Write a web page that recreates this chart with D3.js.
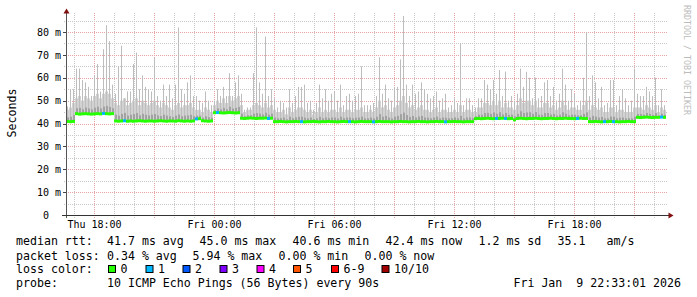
<!DOCTYPE html>
<html>
<head>
<meta charset="utf-8">
<script src="https://cdn.jsdelivr.net/npm/d3@7"></script>
<style>
body { margin: 0; background: #fff; }
text { font-family: "DejaVu Sans Mono", monospace; white-space: pre; }
</style>
</head>
<body>
<svg id="chart" width="697" height="297"></svg>
<script>
// 30 hour window, one sample per 9 minutes
const startTime = new Date(2026, 0, 8, 16, 36);
const endTime = new Date(2026, 0, 9, 22, 36);
const stepMinutes = 9;

// median rtt (ms)
const medianMs = [
  40.9,40.8,40.9,44.3,44.1,44.2,44.3,44.2,44.1,44.2,
  44.3,44.2,44.4,44.3,44.2,44.3,41.1,41.0,41.1,41.2,
  41.0,41.1,41.0,41.1,41.2,41.1,41.0,41.1,41.1,41.0,
  41.1,41.2,41.1,41.0,41.1,41.1,41.0,41.2,41.1,41.0,
  41.1,41.0,41.1,42.0,42.1,41.2,41.1,41.0,41.1,44.7,
  44.8,44.7,44.6,44.7,44.8,44.7,44.6,44.7,42.3,42.2,
  42.3,42.4,42.3,42.2,42.3,42.3,42.4,42.2,42.3,40.8,
  40.8,40.9,40.8,40.7,40.8,40.8,40.9,40.8,40.8,40.7,
  40.8,40.8,40.9,40.8,40.7,40.8,40.8,40.9,40.8,40.8,
  40.7,40.8,40.9,40.8,40.8,40.8,40.7,40.8,40.9,40.8,
  40.8,40.8,40.7,40.8,40.9,40.8,40.8,40.8,40.7,40.8,
  40.8,40.9,40.8,40.8,40.7,40.8,40.8,40.9,40.8,40.8,
  40.7,40.8,40.8,40.9,40.8,40.8,40.7,40.8,40.8,40.9,
  40.8,40.8,40.7,40.8,40.8,40.8,42.1,42.2,42.1,42.2,
  42.3,42.2,42.1,42.2,42.2,42.3,42.2,42.1,42.2,41.6,
  42.2,42.3,42.2,42.1,42.2,42.2,42.3,42.2,42.1,42.2,
  42.2,42.3,42.2,42.1,42.2,42.2,42.3,42.2,42.2,42.1,
  42.2,42.3,42.2,42.2,40.8,40.8,40.9,40.8,40.7,40.8,
  40.8,40.9,40.8,40.8,40.7,40.8,40.8,40.9,40.8,40.8,
  42.7,42.6,42.7,42.8,42.7,42.6,42.7,42.7,42.8,42.7
];

// upper edge of the dense smoke (ms)
const upperMs = [
  46,47,49,51,52,50,52,51,50,52,
  53,51,53,54,53,51,49,48,50,51,
  48,49,50,51,48,50,49,48,49,50,
  48,47,49,48,47,46,48,49,47,48,
  48,49,47,46,46,45,47,46,45,48,
  50,49,51,49,52,50,51,52,48,45,
  46,46,48,49,48,47,49,47,48,46,
  45,45,46,44,47,45,46,47,47,46,
  45,46,44,45,47,45,46,45,46,46,
  45,47,45,46,46,45,46,46,47,45,
  45,46,45,47,50,47,48,46,45,47,
  48,50,52,49,47,48,46,47,48,46,
  46,45,46,47,45,46,46,45,45,46,
  45,48,45,46,46,45,45,47,47,49,
  49,48,50,48,50,47,49,47,47,46,
  48,51,49,50,50,48,50,47,47,49,
  49,47,48,46,47,50,48,46,47,47,
  46,46,48,50,46,48,47,46,47,45,
  45,47,47,45,46,46,45,45,45,47,
  47,47,46,48,47,46,48,45,47,46
];

// slowest ping per sample (ms)
const maxMs = [
  47.5,55,55,64,64,59,58,56,52,61,
  66,54,72.5,83,76,57,53,65,74,51,
  54,54,66,71,55,61,56,55,54,68.6,
  52,50,57,52,57,51,57,82,55,53,
  58,61,52,52,50,49,54,50,48,50,
  55,52,56,52,62,52,58,61,53,46,
  47,47,62,82,58,53,78,52,55,51,
  47,50,49,47,55,49,52,56,56,57,
  49,50,46,49,57,51,55,50,53,54,
  50,57,48,52,53,50,52,53,65,48,
  48,48,49,52,69,53,57,51,50,56,
  56,68,87,57,52,57,53,54,58,55,
  53,51,52,54,50,51,53,47,48,51,
  49,75,48,51,51,48,47,51,51,59,
  57,55,59,53,63.4,52,62.7,50,52,50,
  53,64,56,62.6,60,51,60,51,52,58,
  59,52,56,50,53,64,57,50,55,53,
  48,50,60,80,52,61,58,51,56,48,
  49,59,59,48,52,55,51,48,50,64,
  53,52,52,56,54,52,60,48,55,48
];

// samples with 1 of 10 pings lost
const oneLossSamples = [12,19,43,50,67,78,94,102,126,143,146,170,179,182,198];

const yTicks = [0,10,20,30,40,50,60,70,80];
const xLabelTimes = [
  new Date(2026,0,8,18,0), new Date(2026,0,9,0,0), new Date(2026,0,9,6,0),
  new Date(2026,0,9,12,0), new Date(2026,0,9,18,0)
];

const lossLabels = ["0","1","2","3","4","5","6-9","10/10"];
const lossColors = ["#26ff00","#00b8ff","#0059ff","#7e00ff","#ff00ff","#ff5500","#ff0000","#a10000"];

const legendRtt = [
  ["median rtt:",16],["41.7 ms avg",107],["45.0 ms max",199.5],["40.6 ms min",292.5],
  ["42.4 ms now",385.5],["1.2 ms sd",478.5],["35.1",557.5],["am/s",606.5]
];
const legendLoss = [
  ["packet loss:",16],["0.34 % avg",107],["5.94 % max",192.5],["0.00 % min",278.5],["0.00 % now",364.5]
];
const swatchX = [108,145.5,182.5,219.5,256.5,293,331,381.5];

let svg = d3.select("#chart");

let x = d3.scaleTime().domain([startTime, endTime]).range([66, 666]);
let y = d3.scaleLinear().domain([0, 80]).range([215, 32]);

// grid
let grid = svg.append("g");
let hours = d3.timeHour.range(d3.timeHour.ceil(startTime), endTime);
grid.selectAll("line.vx")
  .data(hours)
  .enter().append("line")
  .attr("x1", d => Math.round(x(d)) + 0.5).attr("x2", d => Math.round(x(d)) + 0.5)
  .attr("y1", 13).attr("y2", 218)
  .attr("stroke", d => d.getHours() % 3 === 0 ? "#e9a3a3" : "#c8c8c8")
  .attr("stroke-dasharray", "1,1");

let yGrid = d3.range(5, 90, 5);
grid.selectAll("line.hy")
  .data(yGrid)
  .enter().append("line")
  .attr("x1", 64).attr("x2", 668)
  .attr("y1", d => Math.round(y(d)) + 0.5).attr("y2", d => Math.round(y(d)) + 0.5)
  .attr("stroke", d => d % 10 === 0 ? "#e9a3a3" : "#c8c8c8")
  .attr("stroke-dasharray", "1,1");

// smoke + median
let samples = medianMs.map((m, i) => ({
  t0: d3.timeMinute.offset(startTime, i * stepMinutes),
  t1: d3.timeMinute.offset(startTime, (i + 1) * stepMinutes),
  med: m, up: upperMs[i], max: maxMs[i],
  loss: oneLossSamples.includes(i) ? 1 : 0
}));

let smoke = svg.append("g");
smoke.selectAll("rect.band")
  .data(samples)
  .enter().append("rect")
  .attr("x", d => Math.round(x(d.t0))).attr("width", 3)
  .attr("y", d => y(d.up)).attr("height", d => y(d.med) - y(d.up))
  .attr("fill", "#d2d2d2");
smoke.selectAll("rect.spike")
  .data(samples)
  .enter().append("rect")
  .attr("x", d => Math.round(x(d.t0)) + 1).attr("width", 1)
  .attr("y", d => y(d.max)).attr("height", d => y(d.med) - y(d.max))
  .attr("fill", "#bdbdbd");
smoke.selectAll("rect.inner")
  .data(samples)
  .enter().append("rect")
  .attr("x", d => Math.round(x(d.t0)) + 1).attr("width", 2)
  .attr("y", d => y(d.med + (d.up - d.med) * 0.35)).attr("height", d => y(d.med) - y(d.med + (d.up - d.med) * 0.35))
  .attr("fill", "#a2a2a2");

smoke.selectAll("rect.median")
  .data(samples)
  .enter().append("rect")
  .attr("x", d => Math.round(x(d.t0))).attr("width", d => Math.round(x(d.t1)) - Math.round(x(d.t0)))
  .attr("y", d => y(d.med) - 1.5).attr("height", 3)
  .attr("fill", d => lossColors[d.loss]);

// axes
let xAxis = svg.append("g")
  .attr("transform", "translate(0,215)")
  .call(d3.axisBottom(x).tickValues(xLabelTimes).tickFormat(d3.timeFormat("%a %H:%M")).tickSize(0).tickPadding(6));
xAxis.select(".domain").remove();
xAxis.selectAll("text").attr("font-family", "DejaVu Sans Mono").attr("font-size", 10).attr("fill", "#000");

let yAxis = svg.append("g")
  .attr("transform", "translate(66,0)")
  .call(d3.axisLeft(y).tickValues(yTicks).tickFormat(d => d === 0 ? "0  " : d + " m").tickSize(0).tickPadding(5));
yAxis.select(".domain").remove();
yAxis.selectAll("text").attr("font-family", "DejaVu Sans Mono").attr("font-size", 10).attr("fill", "#000")
  .attr("xml:space", "preserve");

svg.selectAll("line.ytick")
  .data(yTicks)
  .enter().append("line")
  .attr("x1", 63).attr("x2", 66)
  .attr("y1", d => Math.round(y(d)) + 0.5).attr("y2", d => Math.round(y(d)) + 0.5)
  .attr("stroke", "#444");

svg.append("line").attr("x1", 66.5).attr("x2", 66.5).attr("y1", 12).attr("y2", 218).attr("stroke", "#555");
svg.append("line").attr("x1", 62).attr("x2", 669).attr("y1", 215.5).attr("y2", 215.5).attr("stroke", "#333");
svg.append("path").attr("d", "M66.5,8.5L63.5,13.5L69.5,13.5Z").attr("fill", "#7f1010");
svg.append("path").attr("d", "M673.5,215.5L668.5,212.5L668.5,218.5Z").attr("fill", "#7f1010");

// titles
svg.append("text")
  .attr("transform", "translate(15.5,113) rotate(-90)")
  .attr("text-anchor", "middle").attr("font-size", 11.6)
  .text("Seconds");
svg.append("text")
  .attr("transform", "translate(684,5) rotate(90)")
  .attr("font-size", 8.3).attr("fill", "#bcbcbc")
  .text("RRDTOOL / TOBI OETIKER");

// legend
let legend = svg.append("g").attr("font-size", 11.6);
legend.selectAll("text.rtt").data(legendRtt).enter().append("text")
  .attr("x", d => d[1]).attr("y", 245).text(d => d[0]);
legend.selectAll("text.loss").data(legendLoss).enter().append("text")
  .attr("x", d => d[1]).attr("y", 259.5).text(d => d[0]);
legend.append("text").attr("x", 16).attr("y", 273).text("loss color:");
legend.selectAll("rect.sw").data(lossColors).enter().append("rect")
  .attr("x", (d, i) => swatchX[i] + 0.5).attr("y", 265.5).attr("width", 7).attr("height", 7)
  .attr("fill", d => d).attr("stroke", "#000");
legend.selectAll("text.sw").data(lossLabels).enter().append("text")
  .attr("x", (d, i) => swatchX[i] + 12.5).attr("y", 273).text(d => d);
legend.append("text").attr("x", 16).attr("y", 287).text("probe:");
legend.append("text").attr("x", 107).attr("y", 287).text("10 ICMP Echo Pings (56 Bytes) every 90s");
legend.append("text").attr("x", 681).attr("y", 287).attr("text-anchor", "end").text("Fri Jan  9 22:33:01 2026");
</script>
</body>
</html>
